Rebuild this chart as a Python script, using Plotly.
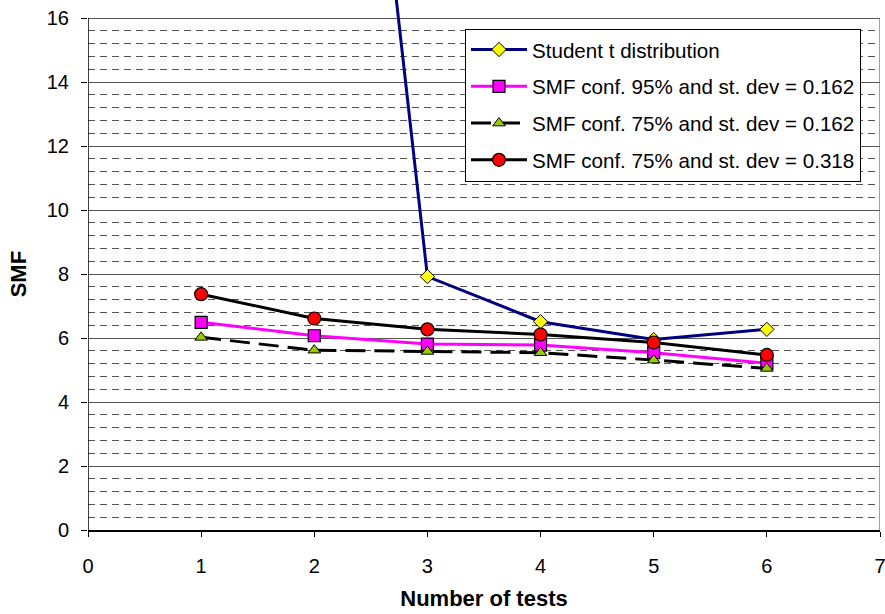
import numpy as np
import plotly.graph_objects as go

# Number of tests on the x axis
tests = [1, 2, 3, 4, 5, 6]

# Safety-margin factor curves
student_t = [None, 39.4, 7.92, 6.51, 5.95, 6.27]
smf_95_sd0162 = [6.49, 6.07, 5.81, 5.78, 5.54, 5.21]
smf_75_sd0162 = [6.02, 5.62, 5.58, 5.54, 5.31, 5.05]
smf_75_sd0318 = [7.37, 6.61, 6.27, 6.11, 5.86, 5.47]

series_names = [
    "Student t distribution",
    "SMF conf. 95% and st. dev = 0.162",
    "SMF conf. 75% and st. dev = 0.162",
    "SMF conf. 75% and st. dev = 0.318",
]

y_major = list(range(0, 17, 2))
x_ticks = list(range(0, 8))
Y_MAX = 16
X_MAX = 7

FONT = "Liberation Sans, Arial, sans-serif"

fig = go.Figure()

fig.add_trace(go.Scatter(
    x=tests, y=student_t, name=series_names[0], mode="lines+markers",
    line=dict(color="#000080", width=3),
    marker=dict(symbol="diamond", size=11, color="#FFFF00",
                line=dict(color="black", width=1)),
    legendgroup="a", cliponaxis=False,
))
fig.add_trace(go.Scatter(
    x=tests, y=smf_95_sd0162, name=series_names[1], mode="lines+markers",
    line=dict(color="#FF00FF", width=3),
    marker=dict(symbol="square", size=12, color="#FF00FF",
                line=dict(color="black", width=1.2)),
    legendgroup="b",
))
fig.add_trace(go.Scatter(
    x=tests, y=smf_75_sd0162, name=series_names[2], mode="lines+markers",
    line=dict(color="black", width=3, dash="20px,9px"),
    marker=dict(symbol="triangle-up", size=11, color="#99CC00",
                line=dict(color="black", width=1)),
    legendgroup="c",
))
fig.add_trace(go.Scatter(
    x=tests, y=smf_75_sd0318, name=series_names[3], mode="lines+markers",
    line=dict(color="black", width=3),
    marker=dict(symbol="circle", size=13, color="#FF0000",
                line=dict(color="black", width=1.2)),
    legendgroup="d",
))

# Plot frame: left spine and right border stop at the top of the value range
fig.add_shape(type="line", xref="x", yref="y", x0=0, x1=0, y0=0, y1=Y_MAX,
              line=dict(color="black", width=1.5), layer="above")
fig.add_shape(type="line", xref="x", yref="y", x0=X_MAX, x1=X_MAX, y0=0, y1=Y_MAX,
              line=dict(color="#808080", width=1.5), layer="below")

# Y-axis title centred on the 0-16 value range
fig.add_annotation(text="<b>SMF</b>", textangle=-90, xref="paper", yref="y",
                   x=-0.088, y=Y_MAX / 2, xanchor="center", yanchor="middle",
                   showarrow=False, font=dict(family=FONT, size=22, color="black"))

minor_vals = [round(v, 1) for v in np.arange(0.4, Y_MAX, 0.4) if abs(v / 2 - round(v / 2)) > 1e-6]

plot_h = 530
y_top = Y_MAX * plot_h / (plot_h - 18)

fig.update_layout(
    width=885, height=614,
    margin=dict(l=88, r=5, t=0, b=84),
    paper_bgcolor="white", plot_bgcolor="white",
    font=dict(family=FONT, color="black", size=20),
    showlegend=True,
    legend=dict(
        x=0.476, y=0.946, xanchor="left", yanchor="top",
        bgcolor="white", bordercolor="black", borderwidth=1,
        font=dict(family=FONT, size=20.6, color="black"),
        tracegroupgap=7, itemwidth=56,
    ),
    xaxis=dict(
        range=[0, X_MAX], tickvals=x_ticks, ticktext=[str(v) for v in x_ticks],
        showgrid=False, zeroline=False,
        showline=True, linecolor="black", linewidth=1.5,
        ticks="outside", ticklen=5, tickcolor="black", tickwidth=1,
        ticklabelstandoff=12, ticklabeloverflow="allow",
        tickfont=dict(size=20),
        title=dict(text="<b>Number of tests</b>", font=dict(size=22), standoff=15),
    ),
    yaxis=dict(
        range=[0, y_top], tickvals=y_major, ticktext=[str(v) for v in y_major],
        showgrid=True, gridcolor="#555555", gridwidth=1,
        zeroline=False, showline=False,
        ticks="outside", ticklen=6, tickcolor="black", tickwidth=1,
        ticklabelstandoff=8,
        tickfont=dict(size=20),
        minor=dict(tickmode="array", tickvals=minor_vals, showgrid=True,
                   gridcolor="#555555", gridwidth=1, griddash="7px,5px", ticks=""),
    ),
)

fig.write_html("out.html")
